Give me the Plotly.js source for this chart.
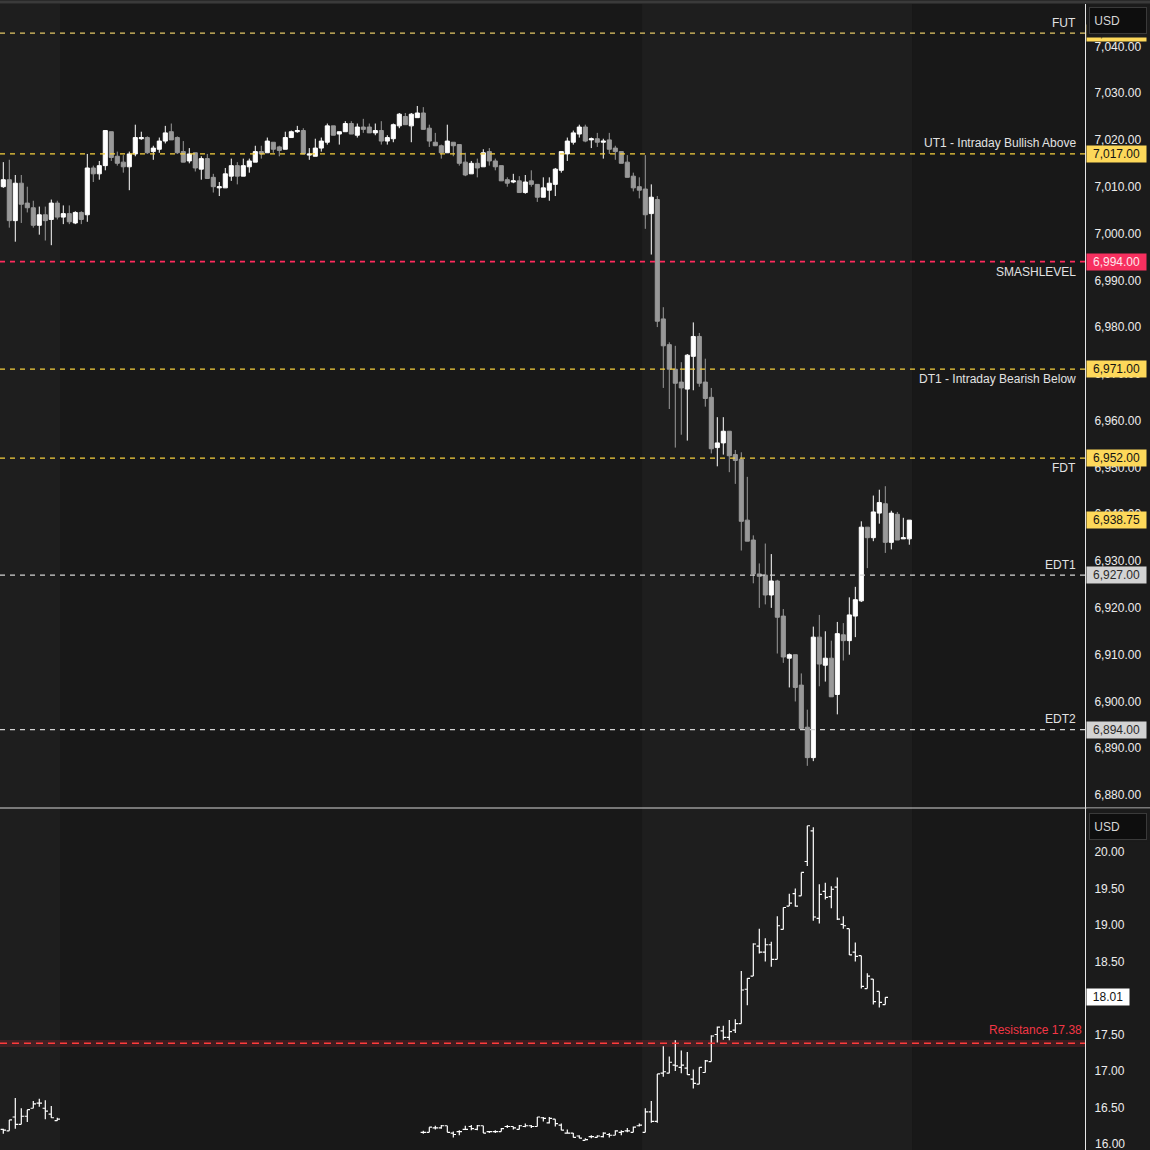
<!DOCTYPE html>
<html>
<head>
<meta charset="utf-8">
<script src="https://cdn.plot.ly/plotly-3.0.1.min.js"></script>
<style>html,body{margin:0;padding:0;background:#1b1b1b;}#chart{width:1150px;height:1150px;}</style>
</head>
<body>
<div id="chart"></div>
<script>
// ---- ES futures candles (index order, left to right) ----
const candleOpen = [
7010.0,7011.5,7002.75,7010.75,7006.5,7005.5,7001.75,7004.0,7003.0,7006.5,
7003.5,7004.25,7002.25,7004.5,7004.0,7014.0,7012.75,7014.5,7021.75,7016.5,
7015.25,7014.25,7017.0,7020.25,7020.5,7017.5,7018.0,7019.75,7021.75,7020.5,
7017.5,7015.5,7017.25,7013.75,7016.0,7012.0,7009.75,7009.75,7012.25,7014.5,
7012.25,7014.25,7015.25,7017.5,7017.25,7019.5,7018.5,7018.0,7020.5,7021.75,
7022.0,7016.75,7016.5,7018.25,7019.5,7023.0,7021.25,7021.75,7023.5,7021.0,
7022.75,7022.75,7021.5,7022.0,7019.75,7020.25,7023.0,7025.0,7023.0,7024.75,
7025.75,7022.5,7019.5,7018.75,7017.25,7019.5,7019.0,7015.25,7012.75,7015.0,
7014.25,7017.5,7015.5,7014.5,7011.5,7011.0,7011.25,7008.75,7011.25,7010.5,
7007.75,7009.25,7010.5,7013.5,7017.0,7019.5,7021.25,7022.75,7020.0,7020.25,
7019.5,7020.0,7018.25,7017.5,7015.25,7012.25,7010.0,7009.5,7004.25,7007.25,
6981.75,6976.25,6971.0,6968.25,6966.75,6973.75,6978.0,6968.25,6965.0,6954.25,
6955.25,6957.75,6952.75,6951.75,6938.75,6934.5,6927.25,6927.0,6922.75,6925.75,
6918.25,6909.25,6910.0,6903.5,6894.5,6888.0,6913.75,6907.75,6909.25,6901.5,
6914.25,6913.0,6918.25,6921.5,6937.25,6935.0,6940.25,6942.25,6934.0,6940.0,
6934.75,6934.75];
const candleHigh = [
7015.25,7015.75,7012.5,7012.5,7010.0,7007.0,7005.75,7005.75,7007.25,7007.0,
7006.0,7006.0,7004.75,7004.75,7017.0,7014.5,7015.5,7022.0,7021.75,7017.5,
7016.75,7017.5,7023.25,7021.75,7020.75,7018.75,7020.5,7023.0,7023.5,7020.75,
7019.75,7018.25,7017.25,7016.5,7017.0,7012.75,7011.0,7014.0,7016.0,7015.25,
7016.0,7016.0,7018.75,7018.75,7020.5,7019.5,7018.75,7021.75,7022.0,7023.0,
7022.5,7018.25,7020.25,7020.5,7023.5,7023.0,7021.75,7024.0,7024.0,7023.5,
7024.5,7023.5,7023.5,7024.0,7021.0,7023.5,7025.75,7025.75,7025.75,7027.25,
7027.0,7023.25,7021.5,7019.0,7023.25,7019.5,7019.0,7017.25,7015.5,7016.0,
7018.0,7018.25,7016.0,7014.5,7012.0,7012.75,7012.25,7012.5,7013.5,7010.5,
7012.0,7012.0,7014.0,7017.5,7020.5,7022.0,7023.25,7023.25,7020.5,7021.5,
7020.25,7021.5,7018.75,7017.5,7016.75,7013.0,7012.0,7016.75,7010.5,7008.0,
6984.25,6976.75,6976.0,6972.5,6974.25,6981.0,6978.75,6973.25,6967.0,6960.75,
6960.75,6957.75,6953.75,6953.25,6948.0,6935.5,6929.5,6933.75,6931.5,6926.0,
6919.75,6910.25,6910.0,6906.0,6898.25,6916.0,6918.5,6915.0,6913.0,6917.0,
6916.75,6922.25,6924.5,6938.5,6937.25,6944.0,6945.25,6946.0,6940.75,6940.5,
6939.25,6938.75];
const candleLow = [
7009.75,7001.25,6998.25,7002.25,7004.5,7001.25,6999.75,6998.5,6997.5,7003.0,
7002.0,7002.0,7002.0,7002.0,7002.5,7011.0,7011.5,7013.5,7015.5,7014.5,
7013.0,7009.25,7016.5,7020.0,7017.0,7015.75,7017.25,7019.25,7020.0,7017.0,
7015.25,7015.0,7013.25,7011.5,7011.75,7008.75,7008.0,7009.75,7011.25,7010.5,
7012.25,7013.0,7015.25,7016.0,7017.25,7017.25,7016.5,7018.0,7020.5,7021.5,
7017.0,7015.75,7016.5,7017.5,7019.0,7021.0,7019.0,7021.75,7021.25,7020.5,
7021.5,7021.5,7021.0,7019.0,7019.0,7019.5,7022.5,7023.25,7019.5,7024.75,
7022.25,7018.5,7018.75,7016.0,7017.25,7016.5,7014.5,7012.25,7012.75,7012.0,
7014.25,7014.5,7013.5,7011.25,7010.0,7010.75,7008.75,7008.5,7010.0,7006.75,
7007.75,7007.0,7008.0,7013.0,7015.5,7019.0,7020.5,7019.5,7018.25,7018.5,
7016.0,7017.0,7015.75,7015.0,7012.0,7009.0,7007.5,7001.0,6995.5,6980.0,
6967.0,6962.5,6954.25,6957.0,6955.75,6966.5,6967.25,6963.0,6953.0,6950.25,
6952.75,6949.0,6946.5,6932.25,6934.25,6925.25,6920.0,6920.75,6920.0,6910.25,
6908.25,6903.0,6900.0,6894.0,6886.25,6887.25,6903.25,6904.25,6901.0,6897.25,
6908.75,6910.0,6913.75,6921.25,6928.5,6934.25,6938.0,6931.75,6932.5,6934.5,
6934.75,6933.5];
const candleClose = [
7011.5,7002.75,7010.75,7006.25,7005.5,7001.75,7004.0,7002.75,7006.5,7003.5,
7004.25,7002.5,7004.5,7003.0,7014.0,7012.75,7014.5,7022.0,7016.25,7015.0,
7014.25,7017.0,7020.5,7020.5,7017.25,7018.25,7019.75,7021.5,7020.0,7017.25,
7015.25,7017.0,7014.0,7016.0,7011.75,7010.0,7010.0,7012.75,7014.5,7012.25,
7014.5,7015.5,7017.5,7017.0,7019.75,7018.0,7017.75,7020.5,7021.75,7022.0,
7017.0,7017.0,7018.25,7019.75,7023.0,7021.0,7021.75,7023.5,7021.25,7022.75,
7022.25,7021.5,7022.0,7019.75,7020.5,7023.25,7025.5,7023.25,7025.5,7025.75,
7022.25,7019.75,7018.75,7017.25,7019.75,7018.75,7015.0,7012.5,7015.0,7014.0,
7017.25,7015.5,7014.25,7011.25,7010.75,7011.25,7008.75,7011.0,7010.5,7007.75,
7009.75,7010.75,7013.75,7017.5,7019.75,7021.5,7022.75,7019.75,7020.25,7019.5,
7019.75,7018.0,7017.5,7015.0,7012.0,7009.75,7009.25,7004.0,7007.75,6981.25,
6976.0,6971.0,6968.0,6967.0,6974.0,6978.0,6968.0,6964.75,6954.0,6955.25,
6957.75,6952.5,6951.5,6938.5,6934.25,6927.25,6926.75,6922.75,6925.75,6918.0,
6909.5,6910.0,6903.0,6894.25,6888.0,6913.75,6908.0,6909.25,6901.0,6914.5,
6913.0,6918.5,6921.75,6937.25,6935.0,6940.5,6942.5,6934.0,6940.25,6934.5,
6935.0,6938.75];

// ---- volatility index bars (lower pane) ----
const vixSegments = [[0, 9], [70, 147]];   // bar index ranges that have data
const vixOpen = [
16.20,16.18,16.37,16.27,16.38,16.49,16.56,16.49,16.41,16.32,
16.16,16.16,16.22,16.22,16.25,16.15,16.17,16.20,16.24,16.20,
16.25,16.17,16.17,16.17,16.24,16.24,16.20,16.24,16.25,16.24,
16.36,16.29,16.34,16.26,16.15,16.15,16.11,16.05,16.10,16.09,
16.10,16.13,16.12,16.16,16.18,16.16,16.25,16.16,16.44,16.31,
16.97,16.97,17.08,17.05,17.04,16.89,16.82,16.98,17.13,17.50,
17.55,17.46,17.56,17.65,18.12,18.30,18.71,18.63,18.73,18.53,
18.94,19.26,19.43,19.40,19.87,20.29,19.09,19.46,19.39,19.52,
19.01,18.95,18.63,18.58,18.13,18.26,18.09,17.91];
const vixHigh = [
16.21,16.33,16.63,16.49,16.47,16.59,16.62,16.60,16.52,16.36,
16.18,16.23,16.25,16.26,16.25,16.17,16.19,16.25,16.26,16.26,
16.25,16.17,16.19,16.22,16.26,16.24,16.26,16.28,16.26,16.37,
16.37,16.37,16.34,16.28,16.20,16.15,16.12,16.08,16.12,16.12,
16.16,16.15,16.19,16.19,16.22,16.24,16.28,16.49,16.59,16.96,
17.34,17.20,17.42,17.28,17.26,17.02,17.05,17.15,17.49,17.61,
17.62,17.70,17.71,18.37,18.27,18.75,18.95,18.82,18.77,19.12,
19.24,19.43,19.50,19.72,20.36,20.34,19.56,19.58,19.53,19.65,
19.12,18.95,18.76,18.58,18.34,18.26,18.09,18.01];
const vixLow = [
16.14,16.18,16.21,16.27,16.30,16.49,16.51,16.34,16.36,16.32,
16.14,16.16,16.20,16.21,16.16,16.09,16.12,16.20,16.19,16.19,
16.15,16.15,16.15,16.17,16.22,16.20,16.20,16.23,16.22,16.24,
16.31,16.28,16.24,16.19,16.15,16.09,16.08,16.05,16.08,16.09,
16.09,16.09,16.12,16.12,16.16,16.16,16.24,16.16,16.29,16.29,
16.92,16.97,17.00,16.97,16.95,16.76,16.82,16.98,17.13,17.39,
17.43,17.42,17.52,17.65,17.90,18.30,18.61,18.50,18.43,18.53,
18.94,19.26,19.25,19.40,19.81,19.06,19.02,19.35,19.23,19.07,
18.95,18.59,18.50,18.13,18.13,17.91,17.87,17.91];
const vixClose = [
16.19,16.33,16.27,16.38,16.47,16.55,16.56,16.45,16.36,16.34,
16.16,16.23,16.22,16.25,16.16,16.13,16.17,16.20,16.21,16.25,
16.15,16.17,16.17,16.21,16.24,16.22,16.25,16.25,16.24,16.37,
16.35,16.35,16.28,16.19,16.15,16.09,16.08,16.06,16.10,16.11,
16.15,16.12,16.18,16.17,16.18,16.23,16.26,16.44,16.31,16.96,
16.99,17.12,17.07,17.08,16.95,16.83,17.05,17.14,17.48,17.60,
17.46,17.54,17.65,18.11,18.27,18.74,18.63,18.73,18.53,18.99,
19.24,19.30,19.26,19.72,20.36,19.11,19.42,19.38,19.49,19.08,
18.99,18.59,18.57,18.16,18.30,17.95,17.94,18.01];

// ---- key levels ----
const levelNames  = ['FUT', 'UT1 - Intraday Bullish Above', 'SMASHLEVEL', 'DT1 - Intraday Bearish Below', 'FDT', 'EDT1', 'EDT2'];
const levelValues = [7042.8, 7017.00, 6994.00, 6971.00, 6952.00, 6927.00, 6894.00];
const levelKinds  = ['fut', 'yellow', 'red', 'yellow', 'yellow', 'gray', 'gray'];
const levelTextSide = ['above', 'above', 'below', 'below', 'below', 'above', 'above'];
const lastPrice = 6938.75;
const resistanceName = 'Resistance';
const resistanceValue = 17.38;
const vixLast = 18.01;
const vixBottomTick = 16.00;
const currencyLabel = 'USD';

// ---- build ----
const candleX = candleOpen.map((_, i) => i);
const vixX = [];
vixSegments.forEach(([a, b]) => { for (let i = a; i <= b; i++) vixX.push(i); });

const FONT = 'Liberation Sans, Arial, sans-serif';
const lineColors = {fut: '#e3c866', yellow: '#f5cf3c', red: '#ff2a5c', gray: '#d2d2d2'};
const lineWidths = {fut: 1.2, yellow: 1.2, red: 1.6, gray: 1.2};
const boxColors  = {fut: '#fdd85a', yellow: '#fdd85a', red: '#f7305f', gray: '#d3d3d3'};
const boxText    = {fut: '#131313', yellow: '#131313', red: '#fde6ec', gray: '#2a2a2a'};

const traces = [
  {
    type: 'candlestick', x: candleX, open: candleOpen, high: candleHigh, low: candleLow, close: candleClose,
    xaxis: 'x', yaxis: 'y', whiskerwidth: 0, hoverinfo: 'skip', showlegend: false,
    increasing: {line: {color: '#ffffff', width: 1}, fillcolor: '#ffffff'},
    decreasing: {line: {color: '#999999', width: 1}, fillcolor: '#999999'}
  },
  {
    type: 'ohlc', x: vixX, open: vixOpen, high: vixHigh, low: vixLow, close: vixClose,
    xaxis: 'x', yaxis: 'y2', tickwidth: 0.45, hoverinfo: 'skip', showlegend: false,
    increasing: {line: {color: '#ffffff', width: 1.2}},
    decreasing: {line: {color: '#ffffff', width: 1.2}}
  }
];

const H = 1150, TOP = 4, PLOTH = 1146;
const py = px => (H - px) / PLOTH;   // pixel row -> paper y
const split = py(808);

const shapes = [
  // session shading
  {type: 'rect', xref: 'x', yref: 'paper', x0: -2, x1: 9.45, y0: 0, y1: 1, fillcolor: '#1e1e1e', line: {width: 0}, layer: 'below'},
  {type: 'rect', xref: 'x', yref: 'paper', x0: 106.45, x1: 151.45, y0: 0, y1: 1, fillcolor: '#1e1e1e', line: {width: 0}, layer: 'below'},
  // resistance band + line
  {type: 'rect', xref: 'paper', yref: 'y2', x0: 0, x1: 1, y0: resistanceValue - 0.05, y1: resistanceValue + 0.045, fillcolor: 'rgba(242,54,69,0.17)', line: {width: 0}, layer: 'below'},
  {type: 'line', xref: 'paper', yref: 'y2', x0: 0, x1: 1, y0: resistanceValue, y1: resistanceValue, line: {color: '#ff3b3b', width: 1.5, dash: '7px,5px'}},
  // pane separator and top border
  {type: 'line', xref: 'paper', yref: 'paper', x0: 0, x1: 1150 / 1085, y0: split, y1: split, line: {color: '#d6d6d6', width: 1}},
  {type: 'line', xref: 'paper', yref: 'paper', x0: 0, x1: 1150 / 1085, y0: py(2), y1: py(2), line: {color: '#3a3a3a', width: 3}}
];
levelValues.forEach((v, k) => {
  shapes.push({type: 'line', xref: 'paper', yref: 'y', x0: 0, x1: 1, y0: v, y1: v,
    line: {color: lineColors[levelKinds[k]], width: lineWidths[levelKinds[k]], dash: '5px,5px'}});
});

const annotations = [];
levelValues.forEach((v, k) => {
  annotations.push({xref: 'paper', yref: 'y', x: 1078 / 1085, y: v, xanchor: 'right', yanchor: 'middle',
    yshift: levelTextSide[k] === 'above' ? 10.5 : -10, text: levelNames[k], showarrow: false,
    font: {family: FONT, size: 12, color: '#e2e2e2'}});
});
// price boxes on the axis
const fmt = v => v.toLocaleString('en-US', {minimumFractionDigits: 2, maximumFractionDigits: 2});
levelValues.forEach((v, k) => {
  annotations.push({xref: 'paper', yref: 'y', x: 1, xshift: 1, y: v, xanchor: 'left', yanchor: 'middle',
    text: fmt(v), showarrow: false, bgcolor: boxColors[levelKinds[k]], width: 57, height: 14, borderpad: 1,
    font: {family: FONT, size: 12, color: boxText[levelKinds[k]]}});
});
annotations.push({xref: 'paper', yref: 'y', x: 1, xshift: 1, y: lastPrice, xanchor: 'left', yanchor: 'middle',
  text: fmt(lastPrice), showarrow: false, bgcolor: '#fdd85a', width: 57, height: 14, borderpad: 1,
  font: {family: FONT, size: 12, color: '#131313'}});
annotations.push({xref: 'paper', yref: 'y2', x: 1, xshift: 1, y: vixLast, xanchor: 'left', yanchor: 'middle',
  text: vixLast.toFixed(2), showarrow: false, bgcolor: '#ffffff', width: 40, height: 14, borderpad: 1,
  font: {family: FONT, size: 12, color: '#131313'}});
annotations.push({xref: 'paper', yref: 'y2', x: 1084 / 1085, y: resistanceValue, xanchor: 'right', yanchor: 'middle',
  yshift: 13, text: resistanceName + ' ' + resistanceValue.toFixed(2), showarrow: false,
  font: {family: FONT, size: 12, color: '#f23645'}});
// bottom tick of the lower pane (sits at the very edge of the window)
annotations.push({xref: 'paper', yref: 'y2', x: 1, xshift: 8, y: vixBottomTick, xanchor: 'left', yanchor: 'middle',
  text: vixBottomTick.toFixed(2), showarrow: false, font: {family: FONT, size: 12, color: '#ececec'}});
// currency buttons: dark backing, then the framed button
[[22, 31], [825, 32]].forEach(([cy, h]) => {
  annotations.push({xref: 'paper', yref: 'paper', x: 1086 / 1085, y: py(cy), xanchor: 'left', yanchor: 'middle',
    text: ' ', showarrow: false, bgcolor: '#1b1b1b', width: 64, height: h, borderpad: 0});
});
[20.5, 826].forEach(cy => {
  annotations.push({xref: 'paper', yref: 'paper', x: 1089 / 1085, y: py(cy), xanchor: 'left', yanchor: 'middle',
    text: '&nbsp;' + currencyLabel, showarrow: false, bgcolor: '#0e0e0e', bordercolor: '#3a3a3a', borderwidth: 1,
    width: 54, height: 23, align: 'left', borderpad: 1,
    font: {family: FONT, size: 12, color: '#d6d6d6'}});
});

const axisFont = {family: FONT, size: 12, color: '#ececec'};
const layout = {
  width: 1150, height: 1150,
  margin: {l: 0, r: 65, t: TOP, b: 0},
  paper_bgcolor: '#1b1b1b', plot_bgcolor: '#181818',
  showlegend: false, hovermode: false, dragmode: false,
  boxgap: 0.2, boxgroupgap: 0.15,
  xaxis: {range: [-0.55, 180.28], showticklabels: false, showgrid: false, zeroline: false, ticks: '',
    rangeslider: {visible: false}, anchor: 'y2', showline: false},
  yaxis: {domain: [split, 1], range: [6877.24, 7049.04], side: 'right', dtick: 10, tick0: 0,
    tickformat: ',.2f', ticks: '', showgrid: false, zeroline: false, showline: true, linecolor: '#e6e6e6', linewidth: 1,
    tickfont: axisFont, ticklabelstandoff: 6},
  yaxis2: {domain: [0, split], range: [15.918, 20.603], side: 'right', dtick: 0.5, tick0: 0,
    tickformat: '.2f', ticks: '', showgrid: false, zeroline: false, showline: true, linecolor: '#e6e6e6', linewidth: 1,
    tickfont: axisFont, ticklabelstandoff: 6, anchor: 'x'},
  shapes: shapes,
  annotations: annotations
};

Plotly.newPlot('chart', traces, layout, {staticPlot: true, displayModeBar: false});
</script>
</body>
</html>
